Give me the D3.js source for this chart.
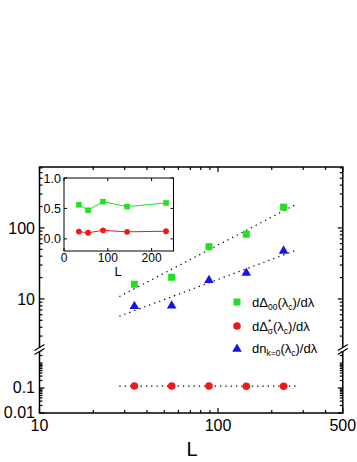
<!DOCTYPE html>
<html><head><meta charset="utf-8">
<script src="https://cdn.jsdelivr.net/npm/d3@7/dist/d3.min.js"></script>
<style>body{margin:0;background:#fff}svg{display:block}text{font-family:Arial,"Liberation Sans",sans-serif;fill:#000}</style>
</head><body><svg id="c" width="357" height="462"></svg>
<script>
// ---- data ----
const L = [34, 55, 89, 144, 233];
const dDelta00 = [16.1, 20.2, 54.5, 81.5, 196];
const dDeltaSigma = [0.12, 0.12, 0.12, 0.118, 0.118];
const dnK0 = [8.15, 8.3, 18.9, 24.0, 49.0];
const fitL = [28, 277];
const fitGreen = [10.8, 218];
const fitBlue = [5.7, 49];
const fitRed = [0.12, 0.12];
const insetGreen = [0.56, 0.47, 0.61, 0.53, 0.59];
const insetRed = [0.12, 0.10, 0.14, 0.115, 0.125];
const xTicks = [10, 100, 500];
const xMinor = [20,30,40,50,60,70,80,90,200,300,400];
const yTicksUpper = [10, 100];
const yMinorUpper = [2,3,4,5,6,7,8,9,20,30,40,50,60,70,80,90,200,300,400,500,600,700];
const yTicksLower = [0.01, 0.1];
const yMinorLower = [0.02,0.03,0.04,0.05,0.06,0.07,0.08,0.09,0.2,0.3,0.4,0.5,0.6,0.7,0.8,0.9,1,2,3];
const insetXTicks = [0, 100, 200];
const insetYTicks = [0.0, 0.5, 1.0];

const GREEN = "#22e022", RED = "#f01818", BLUE = "#1414e6";
const svg = d3.select("#c");

// ---- main scales ----
const x = d3.scaleLog().domain([10, 500]).range([39.5, 342.8]);
const yUp = d3.scaleLog().domain([2, 720]).range([348.6, 167]);
const yLo = d3.scaleLog().domain([0.01, 3]).range([413, 351.1]);
const y = v => v >= 1.5 ? yUp(v) : yLo(v);
const pL = 39.5, pR = 342.8, pT = 167, pB = 413, brk = 349.5;

// frame
const g = svg.append("g");
g.append("rect").attr("x", pL).attr("y", pT).attr("width", pR-pL).attr("height", pB-pT)
  .attr("fill", "none").attr("stroke", "#000").attr("stroke-width", 1.5);

// x ticks (inside, bottom & top)
xTicks.concat(xMinor).forEach(t => {
  const len = xTicks.includes(t) ? 5 : 3;
  g.append("line").attr("x1", x(t)).attr("x2", x(t)).attr("y1", pB).attr("y2", pB-len).attr("stroke","#000").attr("stroke-width",1.2);
  g.append("line").attr("x1", x(t)).attr("x2", x(t)).attr("y1", pT).attr("y2", pT+len).attr("stroke","#000").attr("stroke-width",1.2);
});
xTicks.forEach(t => g.append("text").attr("x", x(t)).attr("y", pB+18).attr("text-anchor","middle").attr("font-size",16).text(t));
g.append("text").attr("x", 192).attr("y", 456).attr("text-anchor","middle").attr("font-size",20).text("L");

// y ticks (inside, left & right)
function yt(v, major, sc) {
  const len = major ? 5 : 3, yy = sc(v);
  g.append("line").attr("x1", pL).attr("x2", pL+len).attr("y1", yy).attr("y2", yy).attr("stroke","#000").attr("stroke-width",1.2);
  g.append("line").attr("x1", pR).attr("x2", pR-len).attr("y1", yy).attr("y2", yy).attr("stroke","#000").attr("stroke-width",1.2);
}
yTicksUpper.forEach(v => yt(v, true, yUp));
yMinorUpper.filter(v => v >= 2 && v <= 720).forEach(v => yt(v, false, yUp));
yTicksLower.forEach(v => yt(v, true, yLo));
yMinorLower.filter(v => v <= 3).forEach(v => yt(v, false, yLo));
yTicksUpper.forEach(v => g.append("text").attr("x", 35).attr("y", yUp(v)+6).attr("text-anchor","end").attr("font-size",16).text(v));
yTicksLower.forEach(v => g.append("text").attr("x", 35).attr("y", yLo(v)+5).attr("text-anchor","end").attr("font-size",16).text(v));

// axis breaks
[pL, pR].forEach(ax => {
  g.append("rect").attr("x", ax-4).attr("y", brk-2).attr("width", 8).attr("height", 4).attr("fill", "#fff");
  [-2, 2].forEach(o => g.append("line").attr("x1", ax-5).attr("y1", brk+o+3).attr("x2", ax+5).attr("y2", brk+o-3)
    .attr("stroke","#000").attr("stroke-width",1.2));
});

// fit lines (dotted)
const fitLine = (vals) => d3.line().x((d,i) => x(fitL[i])).y(d => y(d))(vals);
[fitGreen, fitBlue, fitRed].forEach(vals => g.append("path").attr("d", fitLine(vals)).attr("fill","none")
  .attr("stroke","#000").attr("stroke-width",1.2).attr("stroke-dasharray","1.3,4"));

// markers
const sq = 7;
L.forEach((l,i) => {
  g.append("rect").attr("x", x(l)-sq/2).attr("y", y(dDelta00[i])-sq/2).attr("width", sq).attr("height", sq).attr("fill", GREEN);
  g.append("circle").attr("cx", x(l)).attr("cy", y(dDeltaSigma[i])).attr("r", 3.8).attr("fill", RED);
  g.append("path").attr("d", d3.symbol(d3.symbolTriangle, 40)()).attr("transform", `translate(${x(l)},${y(dnK0[i])+1})`).attr("fill", BLUE);
});

// legend
const lg = svg.append("g");
const lgX = 237, txX = 252, rows = [302, 326, 348];
lg.append("rect").attr("x", lgX-3.5).attr("y", rows[0]-3.5).attr("width", 7).attr("height", 7).attr("fill", GREEN);
lg.append("circle").attr("cx", lgX).attr("cy", rows[1]).attr("r", 3.8).attr("fill", RED);
lg.append("path").attr("d", d3.symbol(d3.symbolTriangle, 40)()).attr("transform", `translate(${lgX},${rows[2]+1})`).attr("fill", BLUE);
const fs = 13, ss = 8.5;
function legendText(row, parts) {
  const t = lg.append("text").attr("x", txX).attr("y", row+5).attr("font-size", fs);
  let cur = 0;
  parts.forEach(p => {
    const s = t.append("tspan").text(p.t);
    let target = p.d || 0;
    s.attr("dy", target - cur); cur = target;
    if (p.small) s.attr("font-size", ss);
    if (p.dx) s.attr("dx", p.dx);
  });
}
legendText(rows[0], [{t:"dΔ"},{t:"00",d:3,small:true},{t:"(λ",d:0},{t:"c",d:3,small:true},{t:")/dλ",d:0}]);
legendText(rows[1], [{t:"dΔ"},{t:"*",d:-6,small:true},{t:"σ",d:3,small:true,dx:-3.5},{t:"(λ",d:0},{t:"c",d:3,small:true},{t:")/dλ",d:0}]);
legendText(rows[2], [{t:"dn"},{t:"k=0",d:3,small:true},{t:"(λ",d:0},{t:"c",d:3,small:true},{t:")/dλ",d:0}]);

// ---- inset ----
const ix = d3.scaleLinear().domain([0, 250]).range([64, 173.5]);
const iy = d3.scaleLinear().domain([-0.2, 1.0]).range([251, 178]);
const ig = svg.append("g");
ig.append("rect").attr("x", 64).attr("y", 178).attr("width", 173.5-64).attr("height", 251-178)
  .attr("fill","#fff").attr("stroke","#000").attr("stroke-width",1);
insetXTicks.forEach(t => {
  ig.append("line").attr("x1", ix(t)).attr("x2", ix(t)).attr("y1", 251).attr("y2", 248).attr("stroke","#000");
  ig.append("line").attr("x1", ix(t)).attr("x2", ix(t)).attr("y1", 178).attr("y2", 181).attr("stroke","#000");
  ig.append("text").attr("x", ix(t)).attr("y", 261.5).attr("text-anchor","middle").attr("font-size",12).text(t);
});
insetYTicks.forEach(t => {
  ig.append("line").attr("x1", 64).attr("x2", 67).attr("y1", iy(t)).attr("y2", iy(t)).attr("stroke","#000");
  ig.append("line").attr("x1", 173.5).attr("x2", 170.5).attr("y1", iy(t)).attr("y2", iy(t)).attr("stroke","#000");
  ig.append("text").attr("x", 61).attr("y", iy(t)+4.5).attr("text-anchor","end").attr("font-size",12.5).text(t.toFixed(1));
});
ig.append("text").attr("x", 118).attr("y", 276).attr("text-anchor","middle").attr("font-size",13).text("L");
const il = vals => d3.line().x((d,i) => ix(L[i])).y(d => iy(d))(vals);
ig.append("path").attr("d", il(insetGreen)).attr("fill","none").attr("stroke", GREEN).attr("stroke-width",1);
ig.append("path").attr("d", il(insetRed)).attr("fill","none").attr("stroke", RED).attr("stroke-width",1);
L.forEach((l,i) => {
  ig.append("rect").attr("x", ix(l)-2.8).attr("y", iy(insetGreen[i])-2.8).attr("width", 5.6).attr("height", 5.6).attr("fill", GREEN);
  ig.append("circle").attr("cx", ix(l)).attr("cy", iy(insetRed[i])).attr("r", 2.9).attr("fill", RED);
});
</script></body></html>
